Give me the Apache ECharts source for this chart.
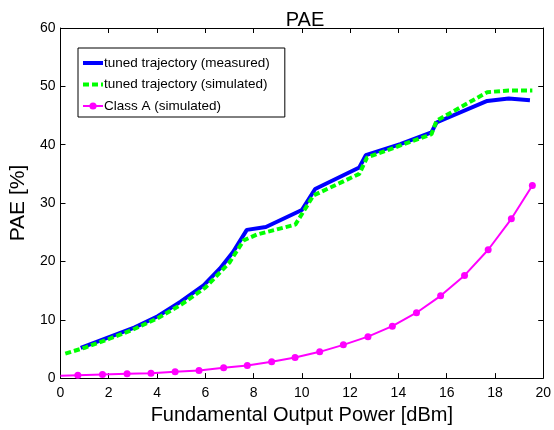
<!DOCTYPE html>
<html>
  <head>
    <meta charset="utf-8" />
    <title>PAE</title>
    <script src="https://cdn.jsdelivr.net/npm/echarts@6/dist/echarts.min.js"></script>
  </head>
  <body style="margin:0;background:#fff;">
    <div id="container" style="width:554px;height:430px;"></div>
    <script type="text/javascript">
    // PAE vs output power
    var measuredX = [0.84, 1.99, 3.08, 4.03, 4.98, 5.93, 6.61, 7.15, 7.72, 8.51, 10.0, 10.55, 12.38, 12.65, 14.08, 15.37, 15.58, 17.68, 18.57, 19.45];
    var measuredY = [5.2, 7.0, 8.7, 10.6, 13.1, 15.9, 18.8, 21.6, 25.4, 25.9, 28.8, 32.4, 36.1, 38.2, 40.1, 42.1, 43.8, 47.5, 47.9, 47.6];

    var simulatedX = [0.2, 1.0, 2.0, 3.0, 4.0, 5.0, 6.0, 7.0, 7.59, 8.13, 9.73, 10.48, 12.38, 12.70, 15.37, 15.58, 17.68, 18.57, 19.55];
    var simulatedY = [4.2, 5.2, 6.7, 8.3, 10.2, 12.6, 15.5, 19.8, 23.6, 24.6, 26.3, 31.3, 35.0, 37.8, 41.8, 44.1, 49.0, 49.3, 49.3];

    var classAX = [0, 0.72, 1.74, 2.76, 3.75, 4.75, 5.74, 6.76, 7.74, 8.75, 9.72, 10.74, 11.72, 12.74, 13.75, 14.75, 15.75, 16.74, 17.72, 18.68, 19.55];
    var classAY = [0.4, 0.5, 0.63, 0.74, 0.85, 1.08, 1.3, 1.76, 2.17, 2.8, 3.54, 4.5, 5.7, 7.1, 8.9, 11.2, 14.1, 17.6, 22.0, 27.3, 33.0];

    var seriesNames = ['tuned trajectory (measured)', 'tuned trajectory (simulated)', 'Class A (simulated)'];

    function pairs(xs, ys) {
      return xs.map(function (x, i) { return [x, ys[i]]; });
    }

    var font = 'Liberation Sans';
    var myChart = echarts.init(document.getElementById('container'));

    var boxAxis = {
      axisLine: { show: true, onZero: false, lineStyle: { color: '#000', width: 1 } },
      axisTick: { show: true, inside: true, length: 5, lineStyle: { color: '#000' } },
      splitLine: { show: false }
    };

    var option = {
      animation: false,
      title: {
        text: 'PAE',
        left: 300,
        textAlign: 'center',
        top: 5,
        textStyle: { fontFamily: font, fontSize: 20, fontWeight: 'normal', color: '#000' }
      },
      legend: {
        data: [
          { name: seriesNames[0], itemStyle: { opacity: 0 }, lineStyle: { width: 4 } },
          { name: seriesNames[1], itemStyle: { opacity: 0 }, lineStyle: { width: 4 } },
          { name: seriesNames[2], lineStyle: { width: 2 } }
        ],
        orient: 'vertical',
        left: 78,
        top: 48,
        padding: [8, 15, 4, 3],
        itemGap: 7.5,
        itemWidth: 20,
        itemHeight: 9,
        borderColor: '#000',
        borderWidth: 1,
        textStyle: { fontFamily: font, fontSize: 13.5, color: '#000', padding: [0, 0, 0, -4] }
      },
      grid: { left: 54.5, right: 9, top: 28, bottom: 50 },
      xAxis: [
        Object.assign({}, boxAxis, {
          type: 'value', min: 0, max: 20, interval: 2, position: 'bottom',
          name: 'Fundamental Output Power [dBm]', nameLocation: 'middle', nameGap: 23,
          nameTextStyle: { fontFamily: font, fontSize: 20, color: '#000' },
          axisLabel: { fontFamily: font, fontSize: 14, color: '#000', margin: 8 }
        }),
        Object.assign({}, boxAxis, {
          type: 'value', min: 0, max: 20, interval: 2, position: 'top',
          axisLabel: { show: false }
        })
      ],
      yAxis: [
        Object.assign({}, boxAxis, {
          type: 'value', min: 0, max: 60, interval: 10, position: 'left',
          name: 'PAE [%]', nameLocation: 'middle', nameGap: 24,
          nameTextStyle: { fontFamily: font, fontSize: 21, color: '#000' },
          axisLabel: { fontFamily: font, fontSize: 14, color: '#000', margin: 5 }
        }),
        Object.assign({}, boxAxis, {
          type: 'value', min: 0, max: 60, interval: 10, position: 'right',
          axisLabel: { show: false }
        })
      ],
      series: [
        {
          name: seriesNames[0],
          type: 'line',
          data: pairs(measuredX, measuredY),
          symbol: 'none',
          color: '#0000ff',
          lineStyle: { color: '#0000ff', width: 4 },
          z: 3
        },
        {
          name: seriesNames[1],
          type: 'line',
          data: pairs(simulatedX, simulatedY),
          symbol: 'none',
          color: '#00ff00',
          lineStyle: { color: '#00ff00', width: 4, type: [6, 3] },
          z: 4
        },
        {
          name: seriesNames[2],
          type: 'line',
          data: pairs(classAX, classAY),
          symbol: 'circle',
          symbolSize: function (v, p) { return p.dataIndex === 0 ? 0 : 7; },
          color: '#ff00ff',
          itemStyle: { color: '#ff00ff' },
          lineStyle: { color: '#ff00ff', width: 2 },
          z: 5
        }
      ]
    };

    myChart.setOption(option);
    window.addEventListener('resize', myChart.resize);
    </script>
  </body>
</html>
